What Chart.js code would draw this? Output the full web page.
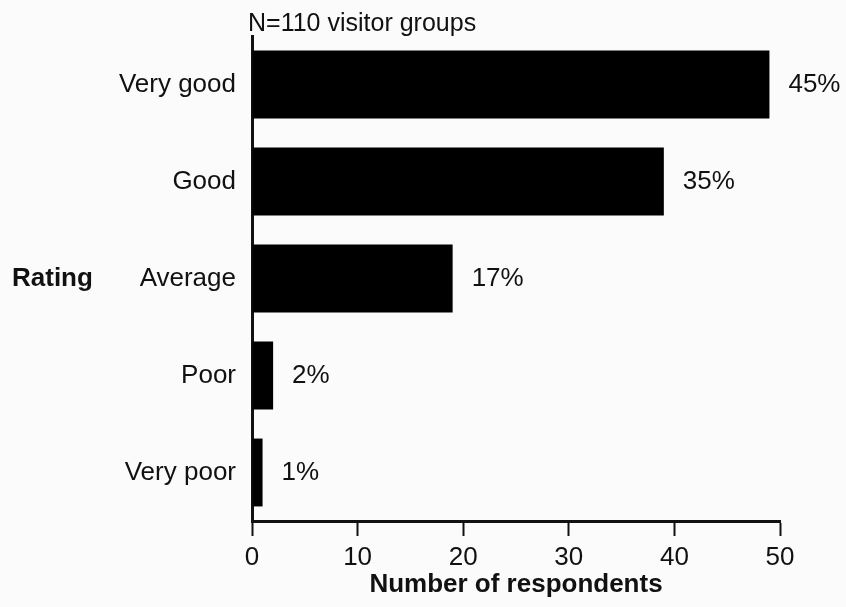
<!DOCTYPE html>
<html>
<head>
<meta charset="utf-8">
<script src="https://cdn.jsdelivr.net/npm/chart.js@4"></script>
<style>
  html, body { margin: 0; padding: 0; background: #fbfbfb; }
  canvas { display: block; }
</style>
</head>
<body>
<canvas id="ratingChart" width="846" height="607"></canvas>
<script>
// data
const ratings = ['Very good', 'Good', 'Average', 'Poor', 'Very poor'];
const respondents = [49, 39, 19, 2, 1];
const percentLabels = ['45%', '35%', '17%', '2%', '1%'];
const xTicks = [0, 10, 20, 30, 40, 50];

const FONT = '"Liberation Sans", Arial, Helvetica, sans-serif';
const INK = '#111';

// teks tambahan: judul, label "Rating", persentase di ujung bar
const extraText = {
  id: 'extraText',
  afterDatasetsDraw(chart) {
    const ctx = chart.ctx;
    const area = chart.chartArea;
    ctx.save();
    ctx.fillStyle = INK;
    ctx.textBaseline = 'middle';

    ctx.font = '25px ' + FONT;
    ctx.textAlign = 'left';
    ctx.fillText('N=110 visitor groups', area.left - 4, 24);

    ctx.font = 'bold 26px ' + FONT;
    ctx.fillText('Rating', 12, chart.scales.y.getPixelForValue(2));

    ctx.font = '26px ' + FONT;
    chart.getDatasetMeta(0).data.forEach((bar, i) => {
      ctx.fillText(percentLabels[i], bar.x + 19, bar.y);
    });
    ctx.restore();
  }
};

new Chart(document.getElementById('ratingChart'), {
  type: 'bar',
  data: {
    labels: ratings,
    datasets: [{
      data: respondents,
      backgroundColor: '#000',
      borderWidth: 0,
      barPercentage: 0.7,
      categoryPercentage: 1
    }]
  },
  options: {
    indexAxis: 'y',
    responsive: false,
    animation: false,
    layout: { padding: { top: 36, right: 66, left: 0, bottom: 0 } },
    scales: {
      x: {
        min: 0,
        max: 50,
        afterBuildTicks(scale) {
          scale.ticks = xTicks.map(v => ({ value: v }));
        },
        afterFit(scale) { scale.height = 86; },
        grid: {
          drawOnChartArea: false,
          drawTicks: true,
          tickLength: 15,
          tickWidth: 2,
          tickColor: INK
        },
        border: { display: true, color: INK, width: 3 },
        ticks: {
          color: INK,
          padding: 6,
          maxRotation: 0,
          font: { family: FONT, size: 26 }
        },
        title: {
          display: true,
          text: 'Number of respondents',
          color: INK,
          padding: { top: 0, bottom: 7 },
          font: { family: FONT, size: 26, weight: 'bold' }
        }
      },
      y: {
        afterFit(scale) { scale.width = 252; },
        grid: { display: false },
        border: { display: true, color: INK, width: 3 },
        ticks: {
          color: INK,
          padding: 8,
          font: { family: FONT, size: 26 }
        }
      }
    },
    plugins: {
      legend: { display: false },
      tooltip: { enabled: false }
    }
  },
  plugins: [extraText]
});
</script>
</body>
</html>
